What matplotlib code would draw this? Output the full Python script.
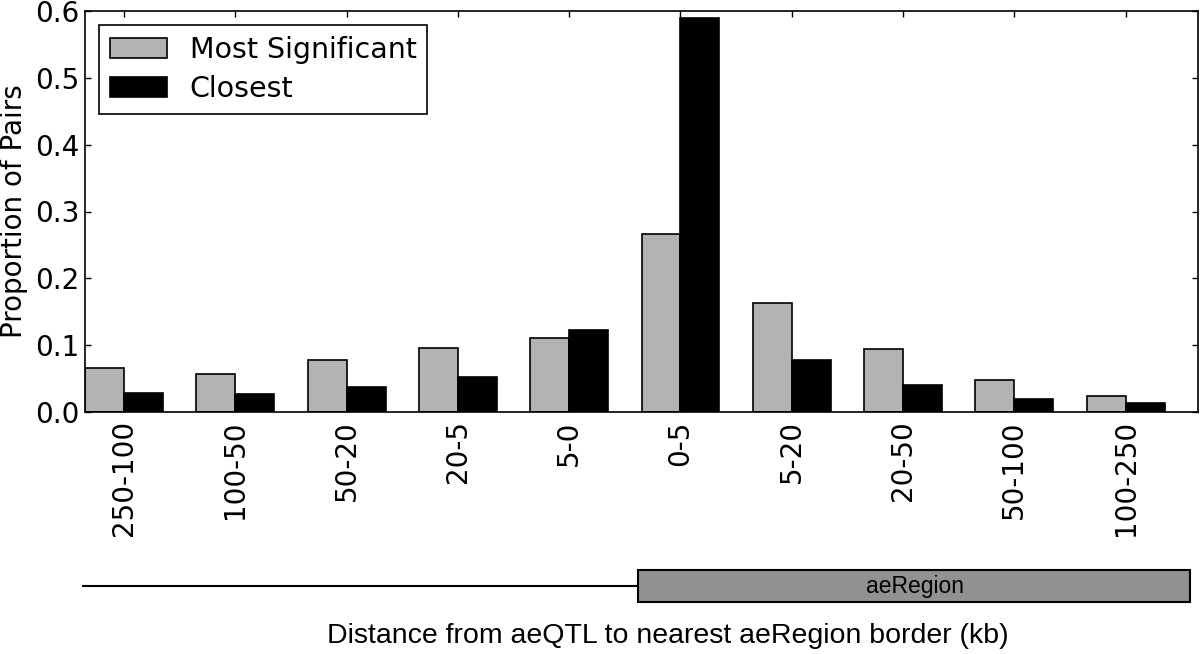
import matplotlib
matplotlib.use("Agg")
import matplotlib.pyplot as plt
from matplotlib.patches import Rectangle
from matplotlib.lines import Line2D
import numpy as np

categories = ["250-100", "100-50", "50-20", "20-5", "5-0", "0-5", "5-20", "20-50", "50-100", "100-250"]
most_significant = [0.066, 0.057, 0.078, 0.096, 0.110, 0.266, 0.163, 0.094, 0.048, 0.024]
closest = [0.028, 0.027, 0.038, 0.052, 0.123, 0.590, 0.078, 0.041, 0.020, 0.013]
series_labels = ["Most Significant", "Closest"]
ylabel = "Proportion of Pairs"
xlabel = "Distance from aeQTL to nearest aeRegion border (kb)"
region_label = "aeRegion"

plt.rcParams['font.family'] = ['DejaVu Sans']
fig = plt.figure(figsize=(12, 6.54), dpi=100)
ax = fig.add_axes([85/1200, 1 - 412/654, (1198-85)/1200, (412-11)/654])

x = np.arange(len(categories))
w = 0.35
ax.bar(x - w/2, most_significant, w, color="#b3b3b3", edgecolor="black", linewidth=1.2, label=series_labels[0])
ax.bar(x + w/2, closest, w, color="black", edgecolor="black", linewidth=1.2, label=series_labels[1])

ax.set_xlim(-0.35, len(categories) - 0.35)
ax.set_ylim(0, 0.6)
yt = np.arange(0, 0.61, 0.1)
ax.set_yticks(yt)
ax.set_yticklabels([f"{v:.1f}" for v in yt], fontsize=20)
ax.set_xticks(x)
ax.set_xticklabels(categories, rotation=90, fontsize=20)
ax.tick_params(direction="in", top=True, right=True, length=4, width=1)
ax.tick_params(axis="y", pad=4)
ax.tick_params(axis="x", pad=6)
ax.set_ylabel(ylabel, fontsize=20, labelpad=5)
for s in ax.spines.values():
    s.set_linewidth(1.2)

leg = ax.legend(loc="upper left", fontsize=20.5, fancybox=False, edgecolor="black",
                framealpha=1, borderaxespad=0.5, handlelength=2.0, handletextpad=0.8,
                borderpad=0.38, labelspacing=0.38)
leg.get_frame().set_linewidth(1.2)

# bottom schematic (figure coordinates)
def fx(px):
    return px / 1200
def fy(py):
    return 1 - py / 654

fig.add_artist(Line2D([fx(83), fx(638)], [fy(586), fy(586)], color="black", linewidth=1.5))
fig.add_artist(Rectangle((fx(638), fy(602)), fx(1190) - fx(638), fy(570) - fy(602),
                         facecolor="#919191", edgecolor="black", linewidth=1.5))
fig.text(fx(915), fy(586), region_label, ha="center", va="center", fontsize=16.5,
         family="Liberation Sans")
fig.text(fx(668), fy(636), xlabel, ha="center", va="center", fontsize=20.5,
         family="Liberation Sans")

fig.savefig("out.png", dpi=100)
